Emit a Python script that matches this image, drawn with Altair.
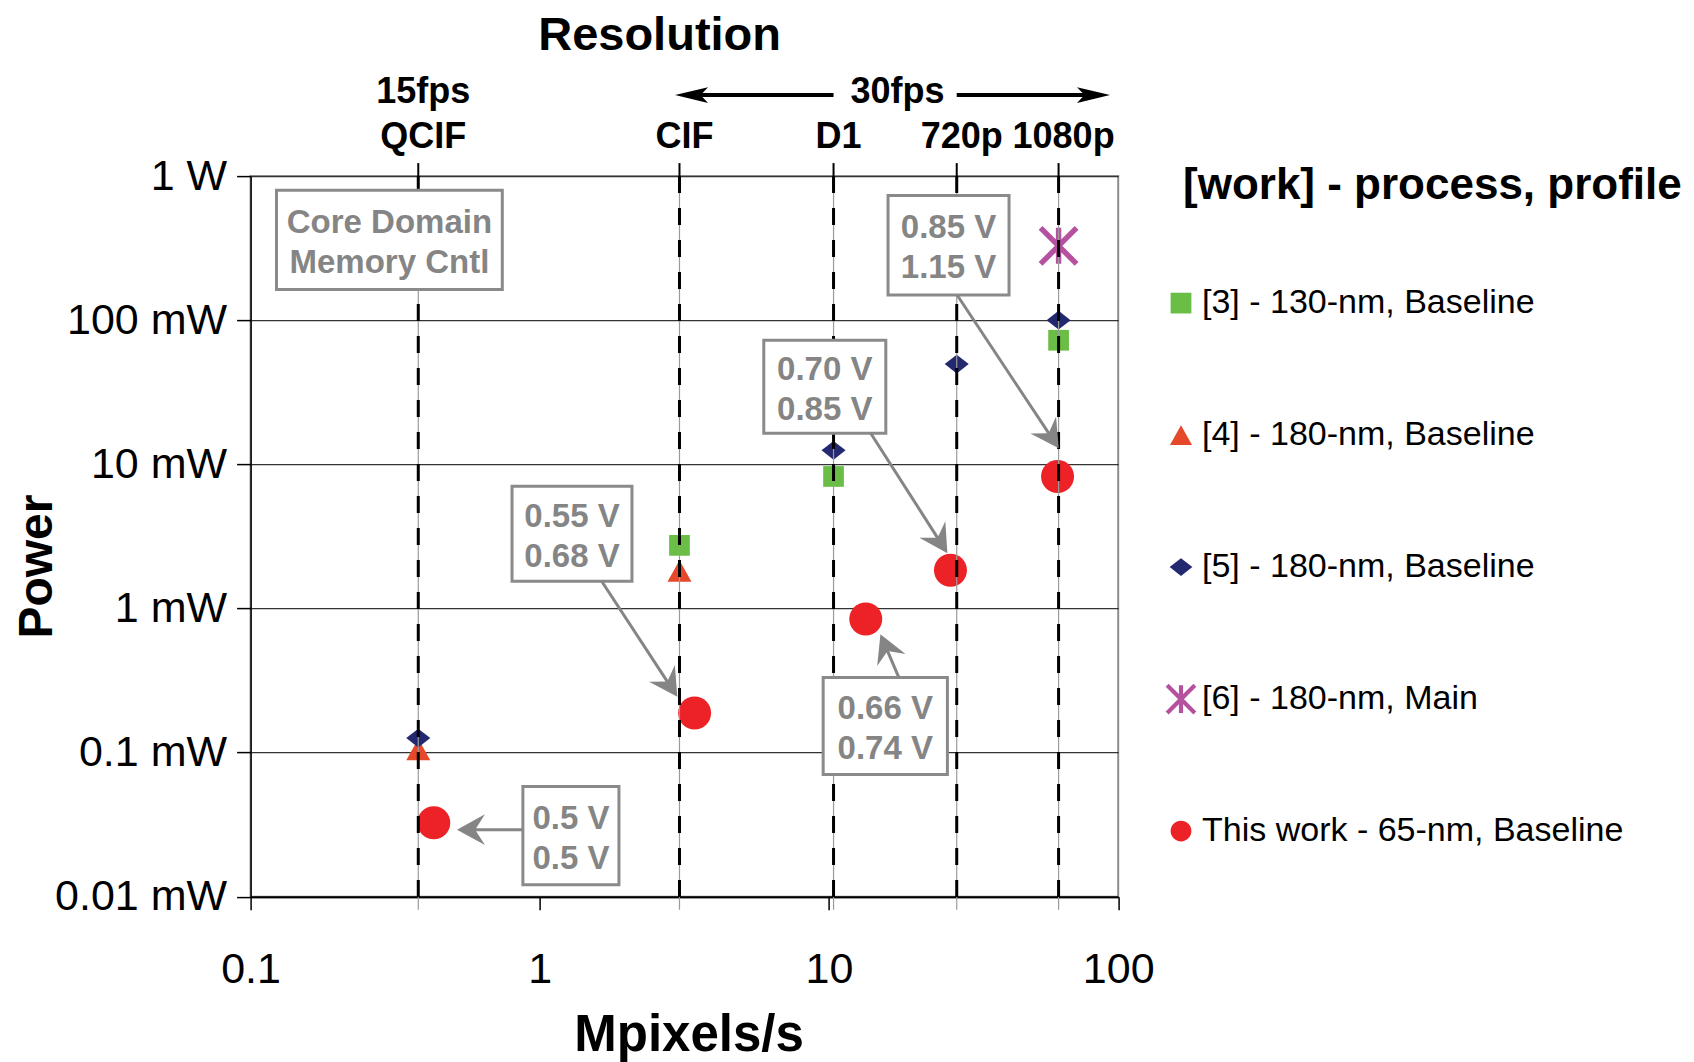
import math
import altair as alt
import pandas as pd

FONT = "Liberation Sans"

# ---------------- data ----------------
SERIES = ["[3] - 130-nm, Baseline", "[4] - 180-nm, Baseline", "[5] - 180-nm, Baseline",
          "[6] - 180-nm, Main", "This work - 65-nm, Baseline"]
COLORS = ["#6ABD45", "#E5492A", "#23296F", "#B5519F", "#EC2227"]

S3_X = [3.041, 10.368, 62.208]
S3_Y = [2.74, 8.24, 72.6]
S4_X = [0.380, 3.041]
S4_Y = [0.105, 1.82]
S5_X = [0.380, 10.368, 27.648, 62.208]
S5_Y = [0.126, 12.5, 49.6, 100.0]
S6_X = [62.208]
S6_Y = [328.0]
TW_X = [0.430, 3.43, 13.4, 26.3, 61.7]
TW_Y = [0.0326, 0.188, 0.845, 1.84, 8.24]

RES_NAMES = ["QCIF", "CIF", "D1", "720p", "1080p"]
RES_X = [0.380, 3.041, 10.368, 27.648, 62.208]

FPS_LABELS = ["15fps", "30fps"]
FPS30_SPAN = [2.935, 93.7]      # arrow tips (Mpixels/s)
FPS30_GAP = [10.368, 27.648]    # where the arrow shafts stop around the label

X_TICKS = [0.1, 1, 10, 100]
X_TICK_LABELS = ["0.1", "1", "10", "100"]
Y_TICKS = [0.01, 0.1, 1, 10, 100, 1000]
Y_TICK_LABELS = ["0.01 mW", "0.1 mW", "1 mW", "10 mW", "100 mW", "1 W"]

ANN_TEXT = ["Core Domain\nMemory Cntl", "0.55 V\n0.68 V", "0.5 V\n0.5 V",
            "0.70 V\n0.85 V", "0.66 V\n0.74 V", "0.85 V\n1.15 V"]
ANN_X0 = [0.1229, 0.8016, 0.874, 5.950, 9.546, 16.00]
ANN_X1 = [0.7418, 2.083, 1.878, 15.72, 25.67, 41.93]
ANN_Y0 = [163.3, 1.545, 0.01209, 16.44, 0.07034, 149.7]
ANN_Y1 = [799.0, 7.058, 0.0581, 72.55, 0.3324, 733.0]

ARW_X0 = [1.637, 0.874, 13.94, 17.43, 27.73]
ARW_Y0 = [1.545, 0.02916, 16.44, 0.3324, 149.7]
ARW_X1 = [2.989, 0.5171, 25.67, 15.06, 62.27]
ARW_Y1 = [0.2436, 0.02916, 2.420, 0.6632, 12.91]

# ---------------- geometry / styles ----------------
W, H = 867.6, 720.6
X_DOMAIN = [0.1, 100]
Y_DOMAIN = [0.01, 1000]
LX0, LX1 = math.log10(X_DOMAIN[0]), math.log10(X_DOMAIN[1])
LY0, LY1 = math.log10(Y_DOMAIN[0]), math.log10(Y_DOMAIN[1])


def to_px(x):
    return W * (math.log10(x) - LX0) / (LX1 - LX0)


def to_py(y):
    return H * (LY1 - math.log10(y)) / (LY1 - LY0)


def from_px(p):
    return 10 ** (LX0 + p / W * (LX1 - LX0))


def from_py(p):
    return 10 ** (LY1 - p / H * (LY1 - LY0))


SQUARE = "M-0.75,-0.75L0.75,-0.75L0.75,0.75L-0.75,0.75Z"
TRIANGLE = "M0,-0.72L0.8,0.72L-0.8,0.72Z"
DIAMOND = "M-0.82,0L0,-0.64L0.82,0L0,0.64Z"
STAR = ("M-0.15,-1L0.15,-1L0.15,1L-0.15,1Z"
        "M-0.894,-1.106L1.106,0.894L0.894,1.106L-1.106,-0.894Z"
        "M0.894,-1.106L1.106,-0.894L-0.894,1.106L-1.106,0.894Z")
CIRCLE = "M-0.75,0A0.75,0.75,0,1,1,0.75,0A0.75,0.75,0,1,1,-0.75,0Z"
SHAPES = [SQUARE, TRIANGLE, DIAMOND, STAR, CIRCLE]
SIZES = [762, 900, 860, 1296, 1936]
LEGEND_SYMBOL_SIZE = 767

STEALTH = "M0,0L-2,-1.1L-1.3,0L-2,1.1Z"
BLACK_HEAD = "M0,0L-2,-0.48L-1.55,0L-2,0.48Z"
GREY = "#858585"

XS = alt.Scale(type="log", domain=X_DOMAIN, nice=False)
YS = alt.Scale(type="log", domain=Y_DOMAIN, nice=False)


def label_expr(values, labels):
    expr = "''"
    for v, l in reversed(list(zip(values, labels))):
        expr = f"datum.value == {v} ? '{l}' : ({expr})"
    return expr


x_axis = alt.Axis(values=X_TICKS, labelExpr=label_expr(X_TICKS, X_TICK_LABELS), grid=False,
                  tickSize=13, tickColor="black", tickWidth=1.5, domainColor="black", domainWidth=2,
                  labelFont=FONT, labelFontSize=43, labelColor="black", labelPadding=39,
                  labelFlush=False, labelOverlap=False,
                  title="Mpixels/s", titleFont=FONT, titleFontSize=51, titleFontWeight="bold",
                  titleColor="black", titleX=438, titleY=154, titleAlign="center",
                  titleBaseline="alphabetic")
y_axis = alt.Axis(values=Y_TICKS, labelExpr=label_expr(Y_TICKS, Y_TICK_LABELS), grid=True,
                  gridColor="#333333", gridWidth=1.2, tickSize=14, tickColor="black", tickWidth=1.5,
                  domainColor="black", domainWidth=1.5, labelFont=FONT, labelFontSize=43,
                  labelColor="black", labelPadding=10, labelFlush=False, labelOverlap=False,
                  title="Power", titleFont=FONT, titleFontSize=48, titleFontWeight="bold",
                  titleColor="black", titleAngle=270, titleX=-213, titleY=390,
                  titleAlign="center", titleBaseline="middle")


def XE(field="x"):
    return alt.X(f"{field}:Q", scale=XS, axis=x_axis)


def YE(field="y"):
    return alt.Y(f"{field}:Q", scale=YS, axis=y_axis)


# ---------------- tables ----------------
rows = []
for s, sz, xs, ys in zip(SERIES, SIZES, [S3_X, S4_X, S5_X, S6_X, TW_X], [S3_Y, S4_Y, S5_Y, S6_Y, TW_Y]):
    for a, b in zip(xs, ys):
        rows.append({"series": s, "x": a, "y": b, "sz": sz})
pts_df = pd.DataFrame(rows)

res_df = pd.DataFrame({"x": RES_X, "name": RES_NAMES})

fps_df = pd.DataFrame({"x": [RES_X[0], math.sqrt(FPS30_SPAN[0] * FPS30_SPAN[1])], "t": FPS_LABELS})
shaft_pad = 14
shaft_df = pd.DataFrame({
    "x": [from_px(to_px(FPS30_SPAN[0]) + shaft_pad), FPS30_GAP[1]],
    "x2": [FPS30_GAP[0], from_px(to_px(FPS30_SPAN[1]) - shaft_pad)],
})
bhead_df = pd.DataFrame({"x": FPS30_SPAN, "ang": [180, 0]})

ann_df = pd.DataFrame({
    "x": ANN_X0, "x2": ANN_X1, "y": ANN_Y0, "y2": ANN_Y1, "t": ANN_TEXT,
    "xc": [math.sqrt(a * b) for a, b in zip(ANN_X0, ANN_X1)],
    "yc": [math.sqrt(a * b) for a, b in zip(ANN_Y0, ANN_Y1)],
})

arw_rows = []
for x0, y0, x1, y1 in zip(ARW_X0, ARW_Y0, ARW_X1, ARW_Y1):
    sx, sy, tx, ty = to_px(x0), to_py(y0), to_px(x1), to_py(y1)
    dx, dy = tx - sx, ty - sy
    d = math.hypot(dx, dy)
    ang = math.degrees(math.atan2(dy, dx)) % 360
    ex, ey = tx - dx / d * 17, ty - dy / d * 17
    arw_rows.append({"x": x0, "y": y0, "x2": from_px(ex), "y2": from_py(ey),
                     "hx": x1, "hy": y1, "ang": ang})
arw_df = pd.DataFrame(arw_rows)

# ---------------- layers ----------------
legend = alt.Legend(orient="none", legendX=932.4, legendY=-12, title="[work] - process, profile",
                    titleFont=FONT, titleFontSize=44, titleFontWeight="bold", titleColor="black",
                    titleLimit=1000, titlePadding=78, labelFont=FONT, labelFontSize=34,
                    labelColor="black", labelLimit=1000, labelOffset=4,
                    symbolSize=LEGEND_SYMBOL_SIZE, symbolOffset=-19, symbolStrokeWidth=0,
                    rowPadding=98, padding=0)

points = alt.Chart(pts_df).mark_point(filled=True, opacity=1, strokeWidth=0).encode(
    x=XE(), y=YE(),
    color=alt.Color("series:N", scale=alt.Scale(domain=SERIES, range=COLORS), legend=legend),
    shape=alt.Shape("series:N", scale=alt.Scale(domain=SERIES, range=SHAPES), legend=legend),
    size=alt.Size("sz:Q", scale=None, legend=None),
)

grey_lines = alt.Chart(res_df).mark_rule(color="#9a9a9a", strokeWidth=1.2).encode(
    x=XE(), y=alt.value(0), y2=alt.value(H + 13))
dashed = alt.Chart(res_df).mark_rule(color="black", strokeWidth=3, strokeDash=[17, 15]).encode(
    x=XE(), y=alt.value(0), y2=alt.value(H + 13))
top_ticks = alt.Chart(res_df).mark_rule(color="black", strokeWidth=2).encode(
    x=XE(), y=alt.value(-13), y2=alt.value(0))
res_labels = alt.Chart(res_df).mark_text(font=FONT, fontSize=36, fontWeight="bold", color="black",
                                         baseline="middle", dx=5).encode(
    x=XE(), y=alt.value(-39), text="name:N")

fps_text = alt.Chart(fps_df).mark_text(font=FONT, fontSize=36, fontWeight="bold", color="black",
                                       baseline="middle", dx=5).encode(
    x=XE(), y=alt.value(-84), text="t:N")
fps_shaft = alt.Chart(shaft_df).mark_rule(color="black", strokeWidth=4).encode(
    x=XE(), x2="x2:Q", y=alt.value(-81))
fps_heads = alt.Chart(bhead_df).mark_point(shape=BLACK_HEAD, filled=True, color="black", opacity=1,
                                           size=1089, strokeWidth=0).encode(
    x=XE(), y=alt.value(-81), angle=alt.Angle("ang:Q", scale=None))

boxes = alt.Chart(ann_df).mark_rect(fill="white", stroke="#8a8a8a", strokeWidth=3).encode(
    x=XE(), x2="x2:Q", y=YE(), y2="y2:Q")
box_text = alt.Chart(ann_df).mark_text(font=FONT, fontSize=33, fontWeight="bold", color=GREY,
                                       lineBreak="\n", lineHeight=40, baseline="middle",
                                       dy=-17).encode(
    x=XE("xc"), y=YE("yc"), text="t:N")

arrow_lines = alt.Chart(arw_df).mark_rule(color=GREY, strokeWidth=3).encode(
    x=XE(), y=YE(), x2="x2:Q", y2="y2:Q")
arrow_heads = alt.Chart(arw_df).mark_point(shape=STEALTH, filled=True, color=GREY, opacity=1,
                                           size=784, strokeWidth=0).encode(
    x=XE("hx"), y=YE("hy"), angle=alt.Angle("ang:Q", scale=None))

title_text = alt.Chart(pd.DataFrame({"t": ["Resolution"]})).mark_text(
    font=FONT, fontSize=47, fontWeight="bold", color="black", baseline="alphabetic").encode(
    x=alt.value(409), y=alt.value(-126), text="t:N")

chart = alt.layer(
    points, grey_lines, dashed, top_ticks, res_labels, fps_text, fps_shaft, fps_heads,
    boxes, box_text, arrow_lines, arrow_heads, title_text
).properties(
    width=W, height=H,
    autosize=alt.AutoSizeParams(type="none"),
    padding={"left": 242.6, "top": 168.1, "right": 565.8, "bottom": 165.3},
).configure_view(stroke="#8c8c8c", strokeWidth=2)

chart.save("out.html", embed_options={"renderer": "svg", "actions": False})
